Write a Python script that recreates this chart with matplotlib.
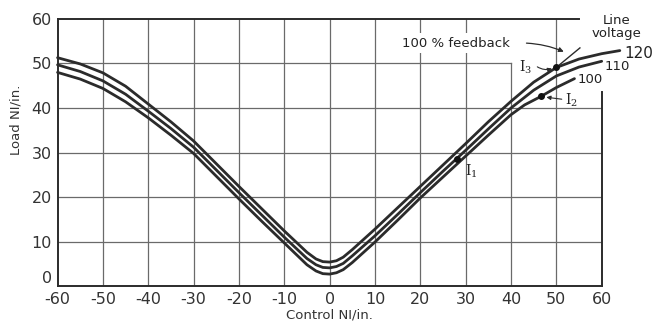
import matplotlib
matplotlib.use("Agg")
import matplotlib.pyplot as plt

plt.rcParams["mathtext.fontset"] = "dejavuserif"

# curves (control NI/in. -> load NI/in.), one per line voltage
x_120 = [-60, -55, -50, -45, -40, -35, -30, -25, -20, -15, -10, -5, -3, -1.5, 0,
         1.5, 3, 5, 10, 15, 20, 25, 30, 35, 40, 45, 50, 55, 60, 64]
y_120 = [51.3, 49.9, 47.9, 44.9, 40.9, 36.9, 32.6, 27.5, 22.4, 17.4, 12.4, 7.6, 6.1, 5.5, 5.4,
         5.7, 6.5, 8.2, 12.8, 17.6, 22.4, 27.2, 32.0, 36.9, 41.5, 45.8, 49.1, 51.0, 52.2, 52.9]

x_110 = [-60, -55, -50, -45, -40, -35, -30, -25, -20, -15, -10, -5, -3, -1.5, 0,
         1.5, 3, 5, 10, 15, 20, 25, 30, 35, 40, 45, 50, 55, 60]
y_110 = [49.7, 48.2, 46.1, 43.1, 39.3, 35.4, 31.2, 26.1, 21.0, 16.0, 11.0, 6.2, 4.8, 4.2, 4.1,
         4.4, 5.1, 6.8, 11.3, 16.1, 21.0, 25.8, 30.5, 35.3, 40.0, 44.0, 47.2, 49.2, 50.5]

x_100 = [-60, -55, -50, -45, -40, -35, -30, -25, -20, -15, -10, -5, -3, -1.5, 0,
         1.5, 3, 5, 10, 15, 20, 25, 30, 35, 40, 43, 46.6, 50, 54]
y_100 = [48.0, 46.5, 44.4, 41.4, 37.8, 33.9, 29.8, 24.7, 19.6, 14.6, 9.7, 4.8, 3.4, 2.8, 2.7,
         3.0, 3.7, 5.3, 9.9, 14.8, 19.8, 24.5, 29.2, 33.9, 38.5, 40.7, 42.6, 44.6, 46.6]

# operating points I1, I2, I3
pt_x = [28.0, 46.6, 50.0]
pt_y = [28.6, 42.6, 49.1]

# 100 % feedback line
fb_x = [49.5, 55.2]
fb_y = [48.7, 53.5]

xticks = [-60, -50, -40, -30, -20, -10, 0, 10, 20, 30, 40, 50, 60]
yticks = [0, 10, 20, 30, 40, 50, 60]

ink = "#2b2b2b"
grid = "#6a6a6a"

fig = plt.figure(figsize=(6.54, 3.27), dpi=100)
ax = fig.add_axes([0.088, 0.125, 0.832, 0.817])
ax.set_xlim(-60, 60)
ax.set_ylim(0, 60)

# grid, drawn by hand because parts are cut away around the labels
for gx in xticks[1:-1]:
    top = 50 if gx == 40 else 60
    ax.plot([gx, gx], [0, top], color=grid, lw=0.9, zorder=1)
for gy in yticks[1:-1]:
    right = 40 if gy == 50 else 60
    ax.plot([-60, right], [gy, gy], color=grid, lw=0.9, zorder=1)

# frame
for s in ax.spines.values():
    s.set_visible(False)
ax.plot([-60, -60], [0, 60], color=ink, lw=1.4, clip_on=False, zorder=2)
ax.plot([-60, 60], [0, 0], color=ink, lw=1.4, clip_on=False, zorder=2)
ax.plot([-60, 55], [60, 60], color=ink, lw=1.4, clip_on=False, zorder=2)
ax.plot([60, 60], [0, 43.5], color=ink, lw=1.4, clip_on=False, zorder=2)

for xs, ys in [(x_120, y_120), (x_110, y_110), (x_100, y_100)]:
    ax.plot(xs, ys, color=ink, lw=2.0, clip_on=False, zorder=3,
            solid_joinstyle="round", solid_capstyle="round")

ax.plot(pt_x, pt_y, "o", color="#111111", ms=4, zorder=4, clip_on=False)
ax.plot(fb_x, fb_y, color=ink, lw=1.0, clip_on=False, zorder=3)

ax.set_xticks(xticks)
ax.set_xticklabels([str(v) for v in xticks])
ax.set_yticks(yticks)
ax.set_yticklabels([str(v) for v in yticks])
ax.tick_params(length=0, labelsize=11.5, colors="#333333", pad=4)
ax.get_yticklabels()[0].set_va("bottom")

ax.set_xlabel("Control NI/in.", fontsize=9.5, color="#333333", labelpad=1)
fig.text(0.024, 1 - 120 / 327, "Load NI/in.", rotation=90, fontsize=9.5,
         color="#333333", ha="center", va="center")

# annotations
ax.text(16, 54.6, "100 % feedback", fontsize=9.5, color="#222222", va="center",
        bbox=dict(facecolor="white", edgecolor="none", pad=2.5))
ax.annotate("", xy=(52.2, 52.4), xytext=(42.8, 54.6),
            arrowprops=dict(arrowstyle="-|>", color=ink, lw=0.9,
                            connectionstyle="arc3,rad=-0.1", mutation_scale=7))
ax.text(63.2, 58.2, "Line\nvoltage", fontsize=9.5, color="#222222",
        ha="center", va="center", linespacing=1.0, clip_on=False)
ax.text(65, 52.3, "120", fontsize=11, color="#222222", va="center", clip_on=False)
ax.text(60.6, 49.4, "110", fontsize=9.5, color="#222222", va="center", clip_on=False)
ax.text(54.6, 46.3, "100", fontsize=9.5, color="#222222", va="center", clip_on=False)

ax.text(29.8, 25.8, r"$\mathrm{I}_1$", fontsize=10, color="#222222", va="center")
ax.text(52.0, 41.8, r"$\mathrm{I}_2$", fontsize=10, color="#222222", va="center")
ax.text(41.8, 49.2, r"$\mathrm{I}_3$", fontsize=10, color="#222222", va="center")
ax.annotate("", xy=(47.2, 42.5), xytext=(51.8, 41.9),
            arrowprops=dict(arrowstyle="-|>", color=ink, lw=0.8, mutation_scale=6))
ax.annotate("", xy=(49.6, 49.1), xytext=(45.3, 49.6),
            arrowprops=dict(arrowstyle="-|>", color=ink, lw=0.8,
                            connectionstyle="arc3,rad=0.3", mutation_scale=6))

fig.savefig("out.png", dpi=100, facecolor="white")
